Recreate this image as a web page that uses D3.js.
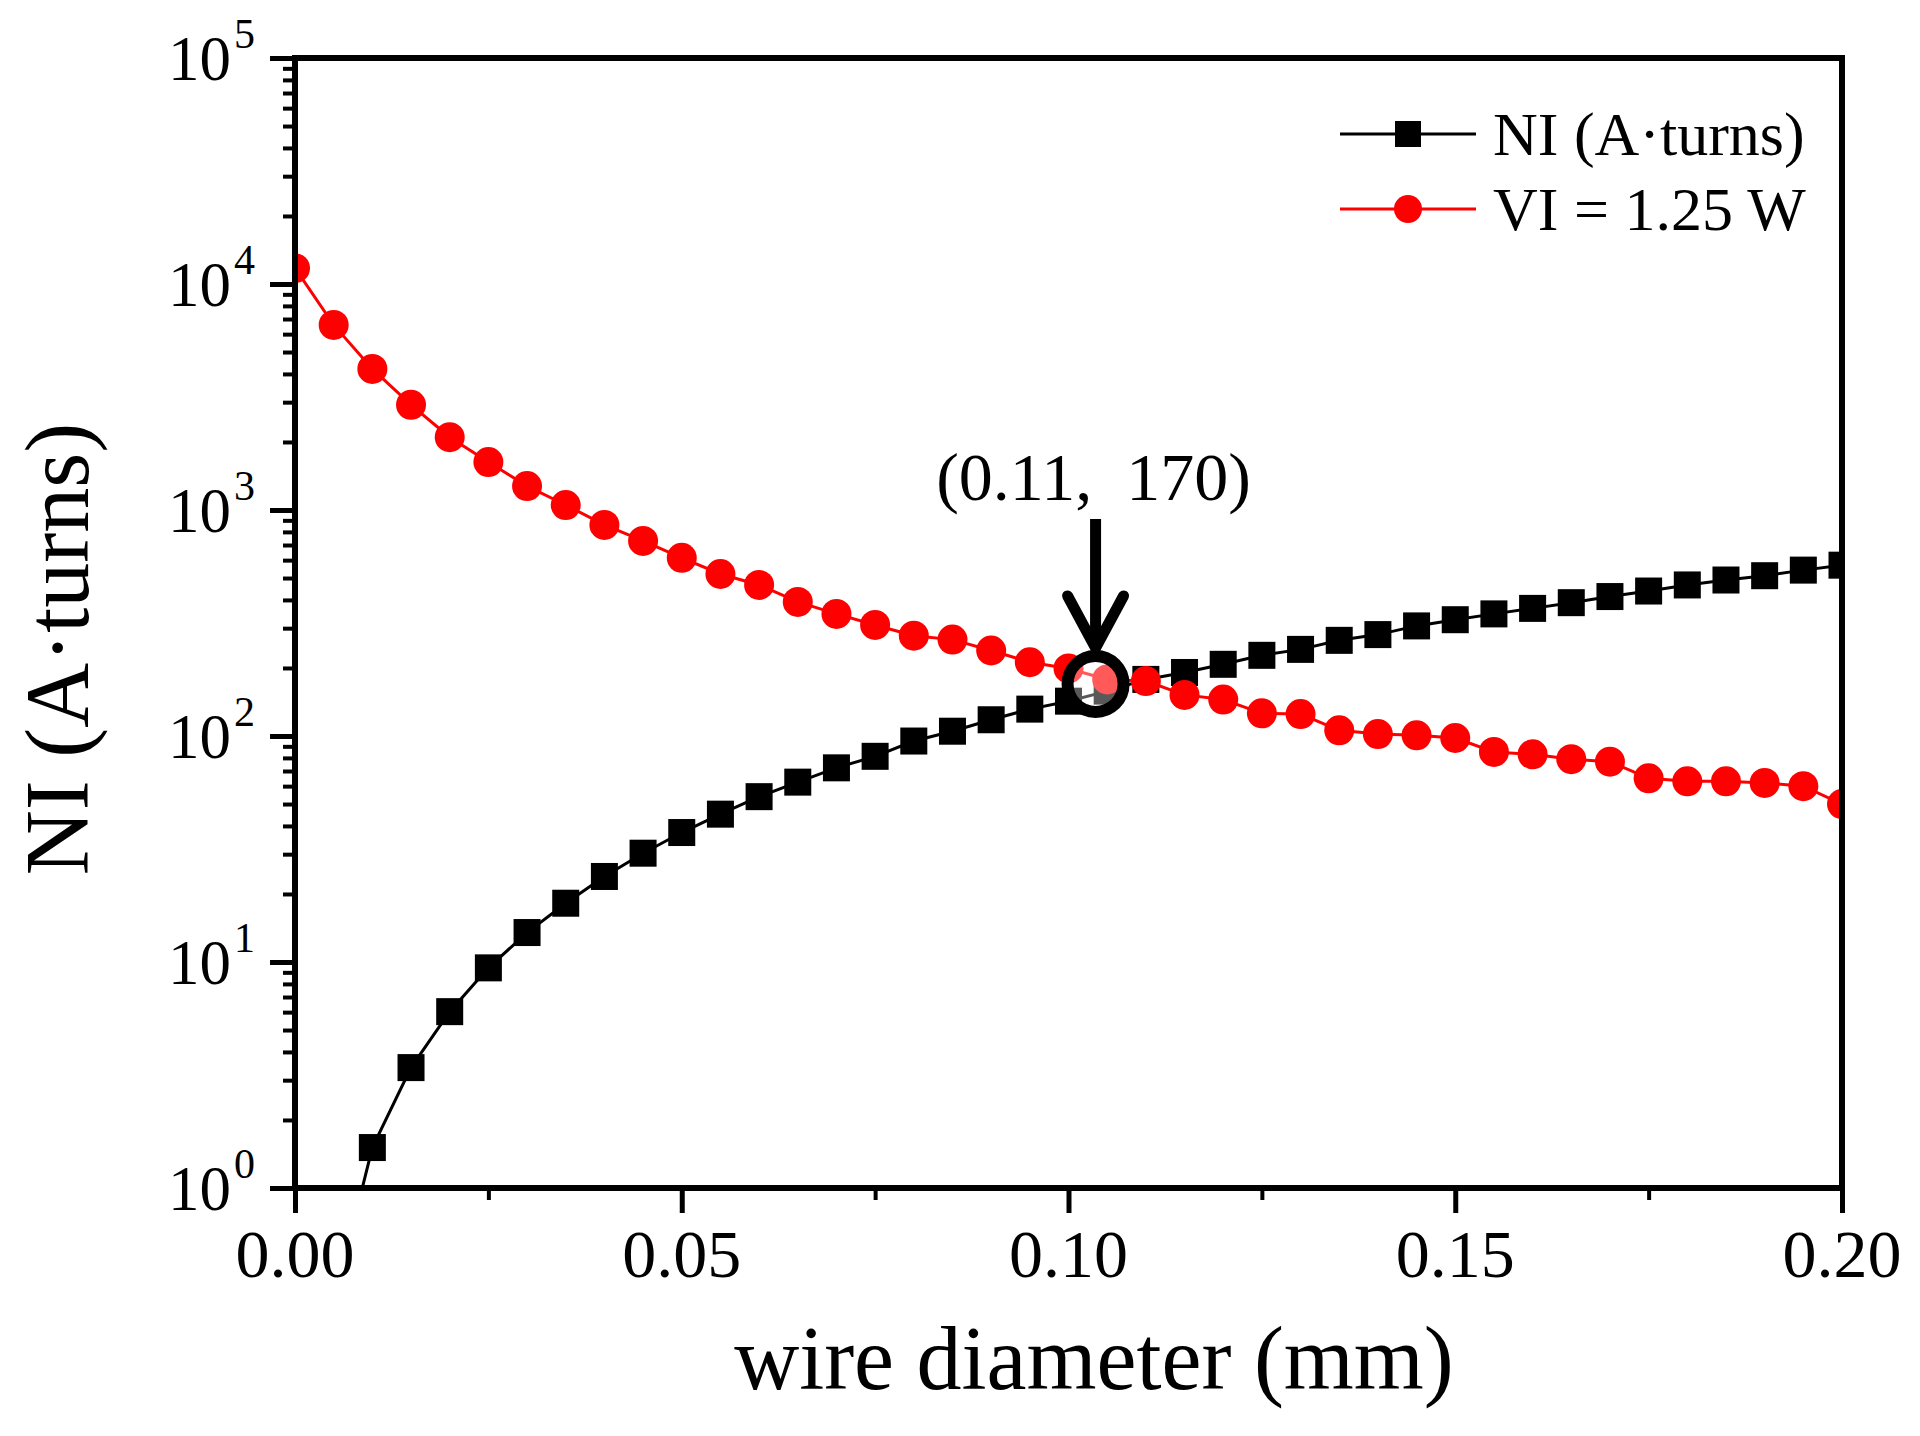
<!DOCTYPE html>
<html>
<head>
<meta charset="utf-8">
<script src="https://cdn.jsdelivr.net/npm/d3@7/dist/d3.min.js"></script>
<style>
  html, body { margin: 0; padding: 0; background: #ffffff; }
  svg { display: block; }
  text { font-family: "Liberation Serif", "Times New Roman", "DejaVu Serif", serif; fill: #000; }
</style>
</head>
<body>
<svg id="chart" width="1920" height="1436"></svg>
<script>
// ---------------- data ----------------
const diameters = [0.000, 0.005, 0.010, 0.015, 0.020, 0.025, 0.030, 0.035, 0.040, 0.045,
                   0.050, 0.055, 0.060, 0.065, 0.070, 0.075, 0.080, 0.085, 0.090, 0.095,
                   0.100, 0.105, 0.110, 0.115, 0.120, 0.125, 0.130, 0.135, 0.140, 0.145,
                   0.150, 0.155, 0.160, 0.165, 0.170, 0.175, 0.180, 0.185, 0.190, 0.195, 0.200];
const niValues = [null, 0.31, 1.51, 3.41, 6.03, 9.42, 13.5, 18.2, 23.9, 30.3,
                  37.4, 45.1, 53.9, 62.5, 72.3, 81.3, 95, 105, 118, 131.5,
                  142.6, 158, 178, 191, 207.6, 227.5, 241.7, 265, 281, 307,
                  327, 347, 367, 389, 414, 438, 466, 490, 512, 542, 570];
const viValues = [11750, 6590, 4210, 2920, 2100, 1630, 1276, 1052, 859, 730,
                  614, 521, 466, 392, 347, 310, 278, 267, 239, 212,
                  199, 178, 175, 152, 145, 126, 125, 106, 102, 100.7,
                  98, 85, 83, 79, 77, 65, 63, 63, 62, 60, 50];
const seriesNames = ["NI (A\u00B7turns)", "VI = 1.25 W"];
const seriesColors = ["#000000", "#ff0000"];
const xTickValues = [0, 0.05, 0.10, 0.15, 0.20];
const xTickLabels = ["0.00", "0.05", "0.10", "0.15", "0.20"];
const xMinorTicks = [0.025, 0.075, 0.125, 0.175];
const yExponents = [0, 1, 2, 3, 4, 5];
const xTitle = "wire diameter (mm)";
const yTitle = "NI (A\u00B7turns)";
const annotationPoint = [0.1035, 170];
const annotationText = "(0.11,  170)";

// ---------------- layout ----------------
const L = 295, R = 1842, T = 58, B = 1188;
const svg = d3.select("#chart");
svg.append("rect").attr("width", 1920).attr("height", 1436).attr("fill", "#fff");

const x = d3.scaleLinear().domain([0, 0.2]).range([L, R]);
const y = d3.scaleLog().domain([1, 1e5]).range([B, T]);

svg.append("defs").append("clipPath").attr("id", "plotclip")
  .append("rect").attr("x", L).attr("y", T).attr("width", R - L).attr("height", B - T);

const plot = svg.append("g").attr("clip-path", "url(#plotclip)");

const niData = diameters.map((d, i) => ({ x: d, v: niValues[i] })).filter(d => d.v != null);
const viData = diameters.map((d, i) => ({ x: d, v: viValues[i] }));

const line = d3.line().x(d => x(d.x)).y(d => y(d.v));

// NI series (black squares)
plot.append("path").datum(niData).attr("d", line)
  .attr("fill", "none").attr("stroke", seriesColors[0]).attr("stroke-width", 3);
const sq = 27;
plot.selectAll("rect.ni").data(niData).enter().append("rect").attr("class", "ni")
  .attr("x", d => x(d.x) - sq / 2).attr("y", d => y(d.v) - sq / 2)
  .attr("width", sq).attr("height", sq).attr("fill", seriesColors[0]);

// VI series (red circles)
plot.append("path").datum(viData).attr("d", line)
  .attr("fill", "none").attr("stroke", seriesColors[1]).attr("stroke-width", 3);
plot.selectAll("circle.vi").data(viData).enter().append("circle").attr("class", "vi")
  .attr("cx", d => x(d.x)).attr("cy", d => y(d.v)).attr("r", 15)
  .attr("fill", seriesColors[1]);

// ---------------- axes ----------------
const axisStyle = g => {
  g.selectAll(".domain").remove();
  g.selectAll("line").attr("stroke", "#000").attr("stroke-width", 5);
};

svg.append("g").attr("transform", `translate(${L},0)`)
  .call(d3.axisLeft(y).tickValues(yExponents.map(e => Math.pow(10, e))).tickSize(25).tickSizeOuter(0).tickFormat(""))
  .call(axisStyle);
const yMinor = [];
for (let e = 0; e < 5; e++) for (let k = 2; k <= 9; k++) yMinor.push(k * Math.pow(10, e));
svg.append("g").attr("transform", `translate(${L},0)`)
  .call(d3.axisLeft(y).tickValues(yMinor).tickSize(12).tickSizeOuter(0).tickFormat(""))
  .call(axisStyle)
  .call(g => g.selectAll("line").attr("stroke-width", 4));

svg.append("g").attr("transform", `translate(0,${B})`)
  .call(d3.axisBottom(x).tickValues(xTickValues).tickSize(25).tickSizeOuter(0).tickFormat(""))
  .call(axisStyle);
svg.append("g").attr("transform", `translate(0,${B})`)
  .call(d3.axisBottom(x).tickValues(xMinorTicks).tickSize(12).tickSizeOuter(0).tickFormat(""))
  .call(axisStyle)
  .call(g => g.selectAll("line").attr("stroke-width", 4));

svg.append("rect").attr("x", L).attr("y", T).attr("width", R - L).attr("height", B - T)
  .attr("fill", "none").attr("stroke", "#000").attr("stroke-width", 6);

svg.append("g").selectAll("text").data(xTickValues).enter().append("text")
  .attr("x", d => x(d)).attr("y", B + 89)
  .attr("text-anchor", "middle").attr("font-size", 68)
  .text((d, i) => xTickLabels[i]);

const yl = svg.append("g").selectAll("text").data(yExponents).enter().append("text")
  .attr("x", 255).attr("y", d => y(Math.pow(10, d)) + 22)
  .attr("text-anchor", "end").attr("font-size", 63);
yl.append("tspan").text("10");
yl.append("tspan").attr("font-size", 42).attr("dy", -32).attr("dx", 3).text(d => d);

svg.append("text").attr("x", 1094).attr("y", 1389)
  .attr("text-anchor", "middle").attr("font-size", 90).text(xTitle);
svg.append("text").attr("transform", `translate(88,${(T + B) / 2 + 26}) rotate(-90)`)
  .attr("text-anchor", "middle").attr("font-size", 90).text(yTitle);

// ---------------- legend ----------------
const legendY = [134, 209];
const lg = svg.append("g");
seriesNames.forEach((name, i) => {
  const yy = legendY[i];
  lg.append("line").attr("x1", 1340).attr("x2", 1476).attr("y1", yy).attr("y2", yy)
    .attr("stroke", seriesColors[i]).attr("stroke-width", 3);
  if (i === 0) {
    lg.append("rect").attr("x", 1408 - 13).attr("y", yy - 13).attr("width", 26).attr("height", 26)
      .attr("fill", seriesColors[i]);
  } else {
    lg.append("circle").attr("cx", 1408).attr("cy", yy).attr("r", 14).attr("fill", seriesColors[i]);
  }
  lg.append("text").attr("x", 1493).attr("y", yy + 21).attr("font-size", 62).text(name);
});

// ---------------- annotation ----------------
const ax = x(annotationPoint[0]), ay = y(annotationPoint[1]);
svg.append("circle").attr("cx", ax).attr("cy", ay).attr("r", 28)
  .attr("fill", "#fff").attr("fill-opacity", 0.35)
  .attr("stroke", "#000").attr("stroke-width", 12);
const tipY = ay - 36;
svg.append("line").attr("x1", ax).attr("x2", ax).attr("y1", ay - 165).attr("y2", tipY - 6)
  .attr("stroke", "#000").attr("stroke-width", 11);
svg.append("path")
  .attr("d", `M${ax - 28},${tipY - 52} L${ax},${tipY} L${ax + 28},${tipY - 52}`)
  .attr("fill", "none").attr("stroke", "#000").attr("stroke-width", 11)
  .attr("stroke-linecap", "round").attr("stroke-linejoin", "miter");
svg.append("text").attr("x", ax - 2).attr("y", ay - 184)
  .attr("text-anchor", "middle").attr("font-size", 68)
  .style("white-space", "pre").text(annotationText);
</script>
</body>
</html>
